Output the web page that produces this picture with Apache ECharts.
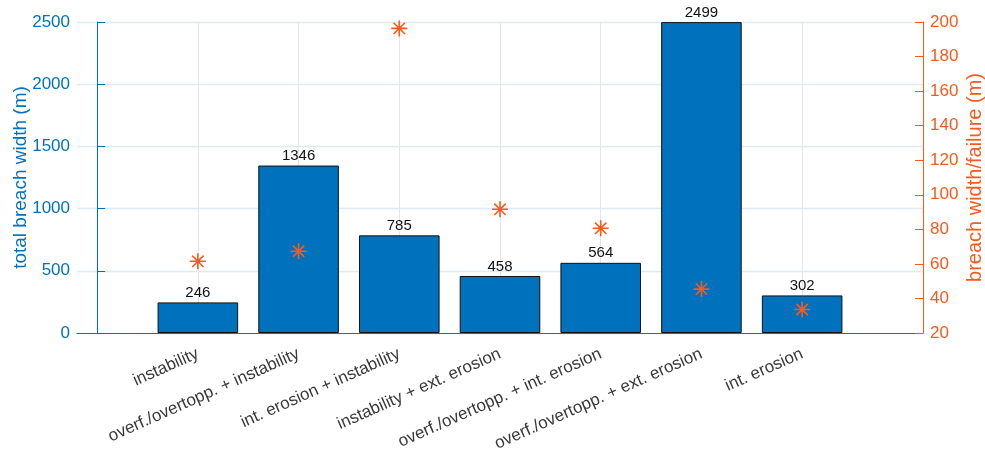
<!DOCTYPE html>
<html>
<head>
<meta charset="utf-8">
<script src="https://cdn.jsdelivr.net/npm/echarts@6/dist/echarts.min.js"></script>
<style>
html,body{margin:0;padding:0;background:#fff;}
#c{width:985px;height:454px;}
</style>
</head>
<body>
<div id="c"></div>
<script>
const categories = [
  'instability',
  'overf./overtopp. + instability',
  'int. erosion + instability',
  'instability + ext. erosion',
  'overf./overtopp. + int. erosion',
  'overf./overtopp. + ext. erosion',
  'int. erosion'
];
const totalBreachWidth = [246, 1346, 785, 458, 564, 2499, 302];
const breachWidthPerFailure = [61.5, 67.3, 196.3, 91.6, 80.6, 45.4, 33.6];
const leftTicks = {min: 0, max: 2500, interval: 500};
const rightTicks = {min: 20, max: 200, interval: 20};

const FONT = 'Liberation Sans, Arial, Helvetica, sans-serif';
const BLUE = '#0072BD';
const ORANGE = '#F95A1C';
const positions = categories.map((c, i) => i + 1);

const chart = echarts.init(document.getElementById('c'), null, {renderer: 'canvas'});
const option = {
  animation: false,
  backgroundColor: '#fff',
  textStyle: {fontFamily: FONT},
  grid: {left: 77, right: 62, top: 22, bottom: 121, containLabel: false, outerBoundsMode: 'none'},
  xAxis: {
    type: 'value',
    min: -0.2,
    max: 8.2,
    axisLine: {show: true, onZero: false, lineStyle: {color: '#2E6A9A', width: 1.2}},
    axisTick: {show: false, customValues: positions},
    axisLabel: {
      customValues: positions,
      rotate: 24,
      margin: 20,
      fontSize: 17,
      color: '#383838',
      fontFamily: FONT,
      formatter: v => categories[Math.round(v) - 1] || ''
    },
    splitLine: {show: true, lineStyle: {color: '#E6E6E6', width: 1}}
  },
  yAxis: [
    {
      type: 'value',
      position: 'left',
      min: leftTicks.min, max: leftTicks.max, interval: leftTicks.interval,
      name: 'total breach width (m)',
      nameLocation: 'middle',
      nameGap: 47,
      nameMoveOverlap: false,
      nameTextStyle: {color: BLUE, fontSize: 19, fontFamily: FONT},
      axisLine: {show: true, lineStyle: {color: BLUE, width: 1}},
      axisTick: {show: true, inside: true, length: 8, lineStyle: {color: BLUE}},
      axisLabel: {color: BLUE, fontSize: 17, margin: 7, fontFamily: FONT, formatter: v => String(v)},
      splitLine: {show: true, lineStyle: {color: '#DCEBF5', width: 1.3}}
    },
    {
      type: 'value',
      position: 'right',
      min: rightTicks.min, max: rightTicks.max, interval: rightTicks.interval,
      name: 'breach width/failure (m)',
      nameLocation: 'middle',
      nameGap: 42,
      nameRotate: 90,
      nameMoveOverlap: false,
      nameTextStyle: {color: ORANGE, fontSize: 20, fontFamily: FONT},
      axisLine: {show: true, lineStyle: {color: ORANGE, width: 1}},
      axisTick: {show: true, inside: true, length: 8, lineStyle: {color: ORANGE}},
      axisLabel: {color: ORANGE, fontSize: 17, margin: 7, fontFamily: FONT, formatter: v => String(v)},
      splitLine: {show: false}
    }
  ],
  series: [
    {
      type: 'bar',
      yAxisIndex: 0,
      barWidth: '80%',
      data: totalBreachWidth.map((v, i) => [positions[i], v]),
      itemStyle: {color: BLUE, borderColor: '#111', borderWidth: 1},
      label: {
        show: true, position: 'top', distance: 2,
        color: '#111', fontSize: 15, fontFamily: FONT,
        formatter: p => String(p.value[1])
      }
    },
    {
      type: 'scatter',
      yAxisIndex: 1,
      symbol: 'path://M0,-10L0,10M-10,0L10,0M-7.07,-7.07L7.07,7.07M-7.07,7.07L7.07,-7.07',
      symbolSize: 16,
      data: breachWidthPerFailure.map((v, i) => [positions[i], v]),
      itemStyle: {color: 'rgba(0,0,0,0)', borderColor: ORANGE, borderWidth: 1.6, opacity: 1},
      z: 5
    }
  ]
};
chart.setOption(option);
</script>
</body>
</html>
